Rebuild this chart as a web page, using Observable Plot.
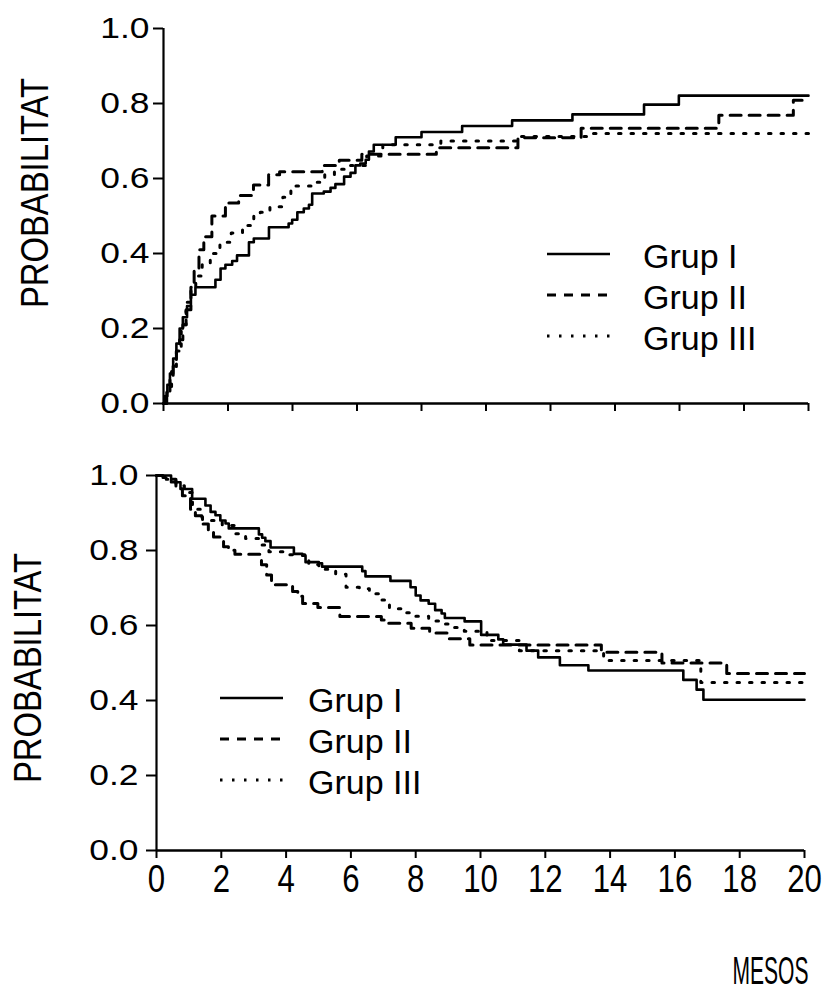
<!DOCTYPE html>
<html>
<head>
<meta charset="utf-8">
<script src="https://cdn.jsdelivr.net/npm/d3@7"></script>
<script src="https://cdn.jsdelivr.net/npm/@observablehq/plot@0.6"></script>
<style>
  html, body { margin: 0; padding: 0; background: #fff; }
  #wrap { position: relative; width: 827px; height: 1001px; overflow: hidden; background: #fff; }
  #wrap > svg { position: absolute; left: 0; }
</style>
</head>
<body>
<div id="wrap"></div>
<script>
// ---------- data ----------
const groups = ["Grup I", "Grup II", "Grup III"];
const yLabel = "PROBABILITAT";
const xLabel = "MESOS";
const xTicks = [0, 2, 4, 6, 8, 10, 12, 14, 16, 18, 20];
const yTicks = [0, 0.2, 0.4, 0.6, 0.8, 1.0];
const xDomain = [0, 20];
const yDomain = [0, 1];

// Top panel (cumulative probability), step-after: time (months) -> probability
const topTimeI = [0, 0.05, 0.12, 0.2, 0.3, 0.4, 0.5, 0.6, 0.73, 0.85, 0.99, 1.61, 1.77, 1.92, 2.13, 2.28, 2.65, 2.8, 3.27, 3.88, 3.99, 4.15, 4.35, 4.51, 4.61, 4.97, 5.18, 5.33, 5.6, 5.8, 5.95, 6.1, 6.27, 6.37, 6.52, 7.2, 8.0, 9.26, 10.81, 12.68, 14.9, 15.98, 20];
const topProbI = [0, 0.02, 0.05, 0.08, 0.12, 0.16, 0.2, 0.23, 0.26, 0.29, 0.31, 0.33, 0.36, 0.37, 0.38, 0.395, 0.43, 0.44, 0.47, 0.48, 0.49, 0.51, 0.52, 0.53, 0.56, 0.565, 0.575, 0.585, 0.605, 0.615, 0.635, 0.64, 0.65, 0.672, 0.69, 0.71, 0.724, 0.74, 0.755, 0.771, 0.797, 0.821, 0.821];

const topTimeII = [0, 0.1, 0.2, 0.3, 0.4, 0.5, 0.6, 0.7, 0.85, 0.95, 1.1, 1.25, 1.5, 1.92, 2.33, 2.79, 3.26, 3.6, 4.92, 5.45, 6.15, 8.46, 10.99, 12.95, 17.22, 19.53, 20];
const topProbII = [0, 0.03, 0.07, 0.1, 0.14, 0.17, 0.21, 0.25, 0.31, 0.36, 0.41, 0.445, 0.5, 0.535, 0.555, 0.583, 0.61, 0.618, 0.635, 0.649, 0.665, 0.682, 0.709, 0.734, 0.769, 0.809, 0.809];

const topTimeIII = [0, 0.1, 0.25, 0.4, 0.55, 0.7, 0.85, 1.0, 1.2, 1.45, 1.75, 2.1, 2.45, 2.8, 3.0, 3.3, 3.7, 3.95, 4.6, 5.0, 5.3, 5.8, 6.3, 6.8, 8.6, 11.0, 13.2, 20];
const topProbIII = [0, 0.03, 0.09, 0.15, 0.21, 0.27, 0.31, 0.34, 0.37, 0.4, 0.43, 0.455, 0.475, 0.5, 0.51, 0.525, 0.55, 0.58, 0.59, 0.61, 0.625, 0.635, 0.66, 0.69, 0.7, 0.712, 0.72, 0.72];

// Bottom panel (survival probability)
const botTimeI = [0, 0.45, 0.74, 1.1, 1.51, 1.67, 1.82, 1.97, 2.13, 2.23, 3.16, 3.26, 3.36, 3.52, 4.24, 4.5, 4.6, 5.01, 5.11, 6.35, 6.45, 7.22, 7.84, 8.0, 8.15, 8.4, 8.6, 8.8, 8.9, 9.51, 10.02, 10.55, 10.7, 11.42, 11.78, 12.45, 13.33, 16.26, 16.67, 16.88, 20];
const botProbI = [1, 0.982, 0.964, 0.938, 0.92, 0.903, 0.894, 0.88, 0.872, 0.859, 0.843, 0.834, 0.825, 0.808, 0.791, 0.786, 0.769, 0.766, 0.757, 0.745, 0.731, 0.719, 0.702, 0.68, 0.667, 0.658, 0.641, 0.632, 0.62, 0.611, 0.575, 0.563, 0.549, 0.533, 0.515, 0.494, 0.48, 0.455, 0.429, 0.402, 0.402];

const botTimeII = [0, 0.2, 0.38, 0.6, 0.8, 1.05, 1.2, 1.4, 1.6, 1.76, 2.07, 2.22, 2.42, 3.19, 3.24, 3.4, 3.55, 4.2, 4.36, 4.51, 4.98, 5.66, 6.94, 7.04, 7.86, 8.43, 9.0, 9.67, 13.73, 15.6, 17.6, 20];
const botProbII = [1, 0.995, 0.99, 0.965, 0.946, 0.91, 0.893, 0.871, 0.854, 0.836, 0.81, 0.801, 0.79, 0.775, 0.762, 0.735, 0.709, 0.691, 0.678, 0.659, 0.648, 0.624, 0.615, 0.606, 0.593, 0.58, 0.565, 0.548, 0.529, 0.5, 0.472, 0.472];

const botTimeIII = [0, 0.3, 0.6, 0.86, 1.11, 1.42, 2.03, 2.44, 2.75, 3.16, 3.47, 4.09, 4.7, 5.01, 5.53, 5.85, 6.26, 6.57, 6.88, 7.19, 7.7, 8.0, 8.4, 8.72, 9.0, 9.5, 10.2, 11.2, 13.8, 16.8, 20];
const botProbIII = [1, 0.99, 0.973, 0.955, 0.91, 0.88, 0.867, 0.845, 0.832, 0.815, 0.797, 0.789, 0.763, 0.75, 0.737, 0.702, 0.698, 0.685, 0.668, 0.645, 0.634, 0.625, 0.612, 0.604, 0.595, 0.585, 0.56, 0.533, 0.507, 0.448, 0.448];

// ---------- helpers ----------
const FONT = '"Liberation Sans", Arial, Helvetica, sans-serif';
const toRows = (ts, ps) => ts.map((t, i) => ({t, p: ps[i]}));
const lineStyles = [
  {strokeWidth: 2.6, strokeDasharray: null},
  {strokeWidth: 3, strokeDasharray: "11,8"},
  {strokeWidth: 3, strokeDasharray: "2.5,10"}
];

// set font size, then (once in the DOM) stretch/condense text to a factor of its natural length
function restyle(svg, match, size, factor, fixedLength) {
  d3.select(svg).selectAll("text").filter(function () { return match(this.textContent); })
    .each(function () {
      this.style.fontSize = size + "px";
      this.style.fontFamily = FONT;
      const L = fixedLength || this.getComputedTextLength() * factor;
      if (L > 0) {
        this.setAttribute("textLength", L);
        this.setAttribute("lengthAdjust", "spacingAndGlyphs");
      }
    });
}

function panel(series, opts) {
  const marks = [
    Plot.axisY({ticks: yTicks, tickSize: 10, tickPadding: opts.yPad, tickFormat: d3.format(".1f"), label: null, strokeWidth: 2}),
    Plot.axisX({ticks: xTicks, tickSize: 8, tickPadding: 7, tickFormat: opts.xLabels ? d3.format("d") : () => "", label: null, strokeWidth: 2}),
    Plot.ruleX([xDomain[0]], {y1: yDomain[0], y2: yDomain[1], strokeWidth: 2.2}),
    Plot.ruleY([yDomain[0]], {x1: xDomain[0], x2: xDomain[1], strokeWidth: 2.6}),
    ...series.map((rows, i) => Plot.line(rows, {
      x: "t", y: "p", curve: "step-after", stroke: "black",
      strokeWidth: lineStyles[i].strokeWidth,
      ...(lineStyles[i].strokeDasharray ? {strokeDasharray: lineStyles[i].strokeDasharray} : {})
    })),
    Plot.text([yLabel], {frameAnchor: "left", textAnchor: "middle", lineAnchor: "middle", rotate: -90, dx: opts.labelDx, dy: opts.labelDy, fontSize: 38, fill: "black"})
  ];
  if (opts.xTitle) {
    marks.push(Plot.text([xLabel], {frameAnchor: "bottom-right", textAnchor: "end", lineAnchor: "bottom", dx: 4, dy: 133, fontSize: 38, fill: "black"}));
  }
  return Plot.plot({
    width: 827, height: opts.height,
    marginLeft: opts.ml, marginRight: opts.mr, marginTop: opts.mt, marginBottom: opts.mb,
    x: {domain: xDomain}, y: {domain: yDomain},
    style: {fontFamily: FONT, background: "white", color: "black", overflow: "visible"},
    marks
  });
}

function finish(svg) {
  restyle(svg, s => /^\d\.\d$/.test(s), 29, 1.22);
  restyle(svg, s => /^\d+$/.test(s), 38, 0.82);
  restyle(svg, s => s === yLabel, 38, 1, 230);
  restyle(svg, s => s === xLabel, 38, 1, 76);
}

const wrap = document.getElementById("wrap");

const topSvg = panel(
  [toRows(topTimeI, topProbI), toRows(topTimeII, topProbII), toRows(topTimeIII, topProbIII)],
  {height: 440, ml: 163, mr: 19, mt: 28, mb: 37, yPad: 4, xLabels: false, labelDx: -128, labelDy: -23, xTitle: false}
);
topSvg.style.top = "0px";
wrap.appendChild(topSvg);
finish(topSvg);

const botSvg = panel(
  [toRows(botTimeI, botProbI), toRows(botTimeII, botProbII), toRows(botTimeIII, botProbIII)],
  {height: 561, ml: 156, mr: 23, mt: 35, mb: 151, yPad: 8, xLabels: true, labelDx: -128, labelDy: 5, xTitle: true}
);
botSvg.style.top = "440px";
wrap.appendChild(botSvg);
finish(botSvg);

// ---------- legends ----------
const legendSvg = d3.select(wrap).append("svg")
  .attr("width", 827).attr("height", 1001)
  .style("position", "absolute").style("left", "0px").style("top", "0px")
  .style("pointer-events", "none");

const legendLayouts = [
  {x1: 547, x2: 610, tx: 643, y0: 254, dy: 41},
  {x1: 220, x2: 283, tx: 308, y0: 698, dy: 41}
];
const legendDash = [null, "9,8", "2.5,9.5"];
const legendWidth = [2.6, 3, 3];

legendLayouts.forEach(L => {
  const g = legendSvg.append("g");
  groups.forEach((name, i) => {
    const y = L.y0 + i * L.dy;
    g.append("line").attr("x1", L.x1).attr("x2", L.x2).attr("y1", y).attr("y2", y)
      .attr("stroke", "black").attr("stroke-width", legendWidth[i])
      .attr("stroke-dasharray", legendDash[i]);
    g.append("text").attr("x", L.tx).attr("y", y + 2)
      .attr("dominant-baseline", "central")
      .style("font-family", FONT).style("font-size", "34px").attr("fill", "black")
      .text(name);
  });
});
</script>
</body>
</html>
